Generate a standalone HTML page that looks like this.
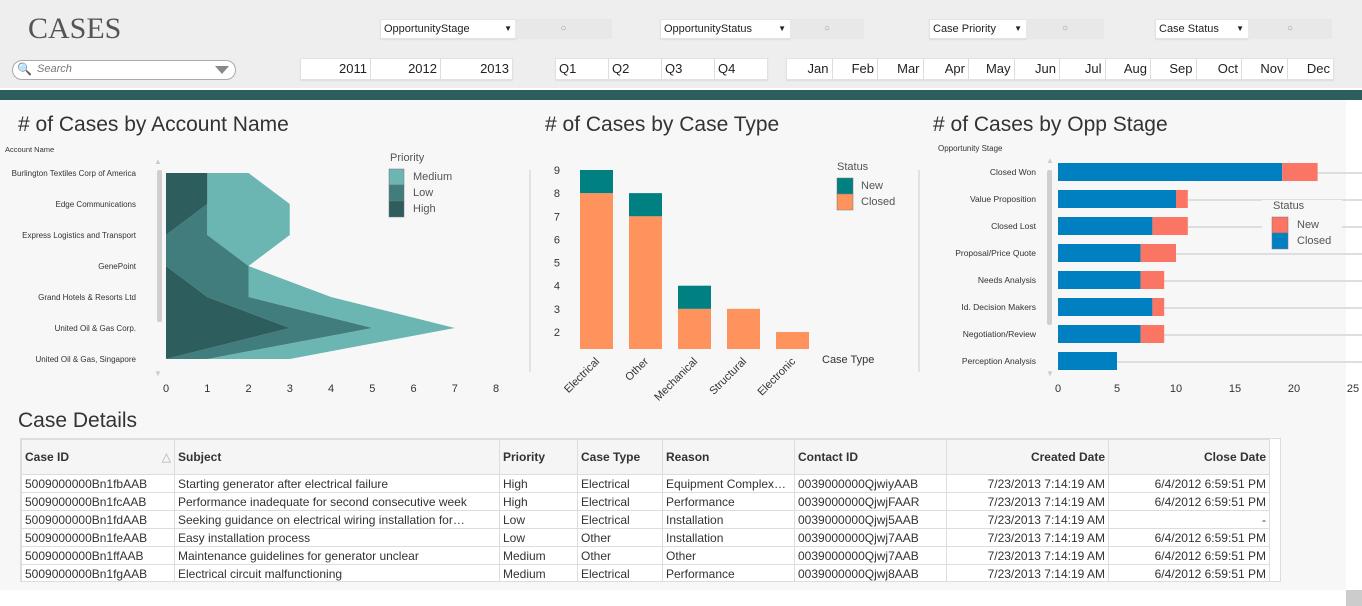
<!DOCTYPE html>
<html><head><meta charset="utf-8"><style>
body{margin:0;width:1362px;height:606px;overflow:hidden;background:#fff;font-family:"Liberation Sans",sans-serif;position:relative}
.a{position:absolute}
.top{left:0;top:0;width:1362px;height:88px;background:#eeeeee}
.band{left:0;top:90px;width:1362px;height:10px;background:#2d5e5e}
.main{left:0;top:100px;width:1346px;height:490px;background:#f7f7f7}
.btn{background:#fff;border:1px solid #e2e2e2;box-shadow:0 1px 1px #ddd;font-size:12px;color:#222}
.seg{position:absolute;top:0;height:20px;line-height:20px;border-right:1px solid #ddd;box-sizing:border-box;font-size:13px;color:#222}
.title{font-size:21px;color:#333}
table{border-collapse:collapse;font-size:12px;color:#333}
td,th{border:1px solid #ddd;height:17px;padding:0 3px;white-space:nowrap;overflow:hidden;text-align:left;font-weight:normal}
th{height:34px;font-weight:bold;background:#f5f5f5}
.r{text-align:right}
</style></head><body>
<div class="a top"></div>
<div class="a band"></div>
<div class="a main"></div>
<div class="a" style="left:28px;top:12px;font-family:'Liberation Serif',serif;font-size:30px;color:#555">CASES</div>
<div class="a" style="left:12px;top:60px;width:222px;height:18px;border:1px solid #aaa;border-radius:10px;background:#fff">
<span style="position:absolute;left:4px;top:1px;font-size:12px;color:#888">&#128269;</span><span style="position:absolute;left:24px;top:2px;font-size:11px;font-style:italic;color:#777">Search</span><span style="position:absolute;right:6px;top:5px;width:0;height:0;border-left:7px solid transparent;border-right:7px solid transparent;border-top:8px solid #888"></span></div>

<div class="a btn" style="left:380px;top:19px;width:132px;height:18px;line-height:18px;padding-left:3px;font-size:11px">OpportunityStage<span style="float:right;margin-right:4px;font-size:8px">▼</span></div>
<div class="a" style="left:515px;top:19px;width:97px;height:20px;background:#e8e8e8;text-align:center;color:#999;font-size:10px;line-height:20px">○</div>
<div class="a btn" style="left:660px;top:19px;width:126px;height:18px;line-height:18px;padding-left:3px;font-size:11px">OpportunityStatus<span style="float:right;margin-right:4px;font-size:8px">▼</span></div>
<div class="a" style="left:790px;top:19px;width:74px;height:20px;background:#e8e8e8;text-align:center;color:#999;font-size:10px;line-height:20px">○</div>
<div class="a btn" style="left:929px;top:19px;width:93px;height:18px;line-height:18px;padding-left:3px;font-size:11px">Case Priority<span style="float:right;margin-right:4px;font-size:8px">▼</span></div>
<div class="a" style="left:1026px;top:19px;width:78px;height:20px;background:#e8e8e8;text-align:center;color:#999;font-size:10px;line-height:20px">○</div>
<div class="a btn" style="left:1155px;top:19px;width:89px;height:18px;line-height:18px;padding-left:3px;font-size:11px">Case Status<span style="float:right;margin-right:4px;font-size:8px">▼</span></div>
<div class="a" style="left:1248px;top:19px;width:84px;height:20px;background:#e8e8e8;text-align:center;color:#999;font-size:10px;line-height:20px">○</div>

<div class="a btn" style="left:300px;top:58px;width:211px;height:20px">
<div class="seg" style="left:0;width:70px;text-align:right;padding-right:3px">2011</div><div class="seg" style="left:70px;width:70px;text-align:right;padding-right:3px">2012</div><div class="seg" style="left:140px;width:71px;text-align:right;padding-right:3px;border:0">2013</div></div>
<div class="a btn" style="left:555px;top:58px;width:211px;height:20px">
<div class="seg" style="left:0;width:53px;padding-left:3px">Q1</div><div class="seg" style="left:53px;width:53px;padding-left:3px">Q2</div><div class="seg" style="left:106px;width:53px;padding-left:3px">Q3</div><div class="seg" style="left:159px;width:52px;padding-left:3px;border:0">Q4</div></div>
<div class="a btn" style="left:786px;top:58px;width:546px;height:20px" id="months"></div>

<div class="a title" style="left:18px;top:113px"># of Cases by Account Name</div>
<div class="a title" style="left:545px;top:113px"># of Cases by Case Type</div>
<div class="a title" style="left:933px;top:113px"># of Cases by Opp Stage</div>
<div class="a title" style="left:18px;top:409px">Case Details</div>

<svg class="a" id="chart" style="left:0;top:0" width="1362" height="606"></svg>

<div class="a" style="left:20px;top:438px;width:1259px;height:142px;background:#fff;border:1px solid #ddd;overflow:hidden">
<table style="table-layout:fixed;width:1248px">
<colgroup><col style="width:153px"><col style="width:325px"><col style="width:78px"><col style="width:85px"><col style="width:132px"><col style="width:152px"><col style="width:162px"><col style="width:161px"></colgroup>
<tr><th>Case ID<span style="float:right;color:#aaa;font-weight:normal">△</span></th><th>Subject</th><th>Priority</th><th>Case Type</th><th>Reason</th><th>Contact ID</th><th class="r">Created Date</th><th class="r">Close Date</th></tr>
<tr><td>5009000000Bn1fbAAB</td><td>Starting generator after electrical failure</td><td>High</td><td>Electrical</td><td>Equipment Complex…</td><td>0039000000QjwiyAAB</td><td class="r">7/23/2013 7:14:19 AM</td><td class="r">6/4/2012 6:59:51 PM</td></tr>
<tr><td>5009000000Bn1fcAAB</td><td>Performance inadequate for second consecutive week</td><td>High</td><td>Electrical</td><td>Performance</td><td>0039000000QjwjFAAR</td><td class="r">7/23/2013 7:14:19 AM</td><td class="r">6/4/2012 6:59:51 PM</td></tr>
<tr><td>5009000000Bn1fdAAB</td><td>Seeking guidance on electrical wiring installation for…</td><td>Low</td><td>Electrical</td><td>Installation</td><td>0039000000Qjwj5AAB</td><td class="r">7/23/2013 7:14:19 AM</td><td class="r">-</td></tr>
<tr><td>5009000000Bn1feAAB</td><td>Easy installation process</td><td>Low</td><td>Other</td><td>Installation</td><td>0039000000Qjwj7AAB</td><td class="r">7/23/2013 7:14:19 AM</td><td class="r">6/4/2012 6:59:51 PM</td></tr>
<tr><td>5009000000Bn1ffAAB</td><td>Maintenance guidelines for generator unclear</td><td>Medium</td><td>Other</td><td>Other</td><td>0039000000Qjwj7AAB</td><td class="r">7/23/2013 7:14:19 AM</td><td class="r">6/4/2012 6:59:51 PM</td></tr>
<tr><td>5009000000Bn1fgAAB</td><td>Electrical circuit malfunctioning</td><td>Medium</td><td>Electrical</td><td>Performance</td><td>0039000000Qjwj8AAB</td><td class="r">7/23/2013 7:14:19 AM</td><td class="r">6/4/2012 6:59:51 PM</td></tr>
</table></div>
<div class="a" style="left:1346px;top:590px;width:16px;height:16px;background:#ccc"></div>

<script>
const months=['Jan','Feb','Mar','Apr','May','Jun','Jul','Aug','Sep','Oct','Nov','Dec'];
const accounts=['Burlington Textiles Corp of America','Edge Communications','Express Logistics and Transport','GenePoint','Grand Hotels & Resorts Ltd','United Oil & Gas Corp.','United Oil & Gas, Singapore'];
const highVals=[1,1,0,0,1,3,0];
const lowVals=[0,0,1,2,1,2,1];
const mediumVals=[1,2,2,0,2,2,2];
const accountTicks=[0,1,2,3,4,5,6,7,8];
const caseTypes=['Electrical','Other','Mechanical','Structural','Electronic'];
const typeClosed=[8,7,3,3,2];
const typeNew=[1,1,1,0,0];
const typeTicks=[2,3,4,5,6,7,8,9];
const stages=['Closed Won','Value Proposition','Closed Lost','Proposal/Price Quote','Needs Analysis','Id. Decision Makers','Negotiation/Review','Perception Analysis'];
const stageClosed=[19,10,8,7,7,8,7,5];
const stageNew=[3,1,3,3,2,1,2,0];
const stageTicks=[0,5,10,15,20,25];

const mb=document.getElementById('months');
months.forEach((m,i)=>{const d=document.createElement('div');d.className='seg';d.style.left=(i*45.5)+'px';d.style.width='45.5px';d.style.textAlign='right';d.style.paddingRight='3px';if(i==11)d.style.border='0';d.textContent=m;


mb.appendChild(d);});

const svg=document.getElementById('chart');const NS='http://www.w3.org/2000/svg';
function el(t,a,txt){const e=document.createElementNS(NS,t);for(const k in a)e.setAttribute(k,a[k]);if(txt!=null)e.textContent=txt;svg.appendChild(e);return e;}
const F='Liberation Sans, sans-serif';

// Chart 1
const ax=v=>166+v*41.25, ay=i=>173+i*31;
el('rect',{x:157,y:170,width:5,height:152,rx:2,fill:'#cfcfcf'});
el('text',{x:158,y:164,'font-size':8,fill:'#ccc','text-anchor':'middle'},'▲');
el('text',{x:158,y:376,'font-size':8,fill:'#ccc','text-anchor':'middle'},'▼');
el('text',{x:5,y:152,'font-size':7.5,fill:'#333','font-family':F},'Account Name');
const c1=highVals.map((h,i)=>h), c2=highVals.map((h,i)=>h+lowVals[i]), c3=c2.map((v,i)=>v+mediumVals[i]);
function band(lo,hi,fill,name){let pts=hi.map((v,i)=>ax(v)+','+ay(i));for(let i=lo.length-1;i>=0;i--)pts.push(ax(lo[i])+','+ay(i));const p=el('polygon',{points:pts.join(' '),fill:fill});

}
const zero=highVals.map(()=>0);
band(c2,c3,'#6bb5b3','area-medium');band(c1,c2,'#407d7c','area-low');band(zero,c1,'#2d5d5c','area-high');
accounts.forEach((a,i)=>{const t=el('text',{x:136,y:ay(i)+3,'font-size':8,fill:'#333','text-anchor':'end','font-family':F},a);

});
accountTicks.forEach(v=>{el('text',{x:ax(v),y:392,'font-size':11,fill:'#333','text-anchor':'middle','font-family':F},v);});
el('text',{x:390,y:161,'font-size':11,fill:'#555','font-family':F},'Priority');
[['Medium','#6bb5b3'],['Low','#407d7c'],['High','#2d5d5c']].forEach((l,i)=>{el('rect',{x:389,y:169+i*16,width:15,height:16,fill:l[1],stroke:'#777','stroke-width':0.5});const t=el('text',{x:413,y:180+i*16,'font-size':11,fill:'#555','font-family':F},l[0]);

});

// Chart 2
el('line',{x1:530,y1:170,x2:530,y2:372,stroke:'#ccc'});
el('line',{x1:919,y1:170,x2:919,y2:372,stroke:'#ccc'});
const my=v=>170+(9-v)*23.14, base=349;
typeTicks.forEach(v=>{el('text',{x:560,y:my(v)+4,'font-size':11,fill:'#333','text-anchor':'end','font-family':F},v);});
caseTypes.forEach((c,i)=>{const x=580+i*49;
const b=el('rect',{x:x,y:my(typeClosed[i]),width:33,height:base-my(typeClosed[i]),fill:'#ff935e'});


if(typeNew[i]>0){const n=el('rect',{x:x,y:my(typeClosed[i]+typeNew[i]),width:33,height:my(typeClosed[i])-my(typeClosed[i]+typeNew[i]),fill:'#008080'});

}
el('text',{x:x+20,y:362,'font-size':11,fill:'#333','text-anchor':'end','font-family':F,transform:`rotate(-45 ${x+20} 362)`},c);});
el('text',{x:822,y:363,'font-size':11,fill:'#333','font-family':F},'Case Type');
el('text',{x:837,y:170,'font-size':11,fill:'#555','font-family':F},'Status');
[['New','#008080'],['Closed','#ff935e']].forEach((l,i)=>{el('rect',{x:837,y:178+i*16,width:16,height:16,fill:l[1],stroke:'#777','stroke-width':0.5});el('text',{x:861,y:189+i*16,'font-size':11,fill:'#555','font-family':F},l[0]);});

// Chart 3
const sx=v=>1058+v*11.8, sy=i=>163+i*27;
el('text',{x:938,y:151,'font-size':8,fill:'#333','font-family':F},'Opportunity Stage');
el('rect',{x:1047,y:170,width:5,height:155,rx:2,fill:'#cfcfcf'});
el('text',{x:1050,y:163,'font-size':8,fill:'#ccc','text-anchor':'middle'},'▲');
el('text',{x:1050,y:376,'font-size':8,fill:'#ccc','text-anchor':'middle'},'▼');
stages.forEach((s,i)=>{const y=sy(i);
el('line',{x1:sx(stageClosed[i]+stageNew[i]),y1:y+10,x2:1362,y2:y+10,stroke:'#dedede','stroke-width':2});
const b=el('rect',{x:sx(0),y:y,width:sx(stageClosed[i])-sx(0),height:18,fill:'#0080c0'});


if(stageNew[i]>0){const n=el('rect',{x:sx(stageClosed[i]),y:y,width:sx(stageClosed[i]+stageNew[i])-sx(stageClosed[i]),height:18,fill:'#fa7563'});

}
el('text',{x:1036,y:y+12,'font-size':8.5,fill:'#333','text-anchor':'end','font-family':F},s);});
stageTicks.forEach(v=>{el('text',{x:sx(v),y:392,'font-size':11,fill:'#333','text-anchor':'middle','font-family':F},v);});
el('rect',{x:1262,y:200,width:80,height:52,fill:'#f7f7f7'});
el('text',{x:1273,y:209,'font-size':11,fill:'#555','font-family':F},'Status');
[['New','#fa7563'],['Closed','#0080c0']].forEach((l,i)=>{el('rect',{x:1272,y:217+i*16,width:16,height:16,fill:l[1],stroke:'#777','stroke-width':0.5});el('text',{x:1297,y:228+i*16,'font-size':11,fill:'#555','font-family':F},l[0]);});
</script>
</body></html>
